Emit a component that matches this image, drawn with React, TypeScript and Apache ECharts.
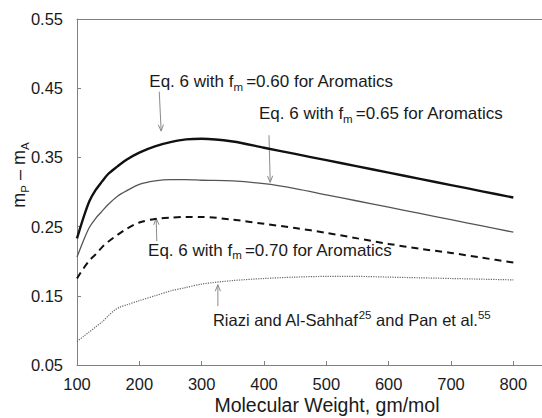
import React, { useEffect, useRef } from "react";
import * as echarts from "echarts";

const FONT = '"Liberation Sans", Arial, Helvetica, sans-serif';

// Molecular weight grid for the Eq. 6 curves
const mw = [100, 110, 120, 130, 140, 150, 165, 180, 200, 225, 250, 275, 300, 350, 400, 450, 500, 550, 600, 650, 700, 750, 800];
const fm060 = [0.233, 0.262, 0.287, 0.303, 0.315, 0.326, 0.337, 0.347, 0.357, 0.366, 0.372, 0.376, 0.377, 0.373, 0.364, 0.355, 0.346, 0.337, 0.328, 0.319, 0.310, 0.301, 0.292];
const fm065 = [0.206, 0.229, 0.249, 0.262, 0.272, 0.282, 0.294, 0.302, 0.311, 0.316, 0.318, 0.318, 0.317, 0.316, 0.312, 0.305, 0.296, 0.287, 0.278, 0.269, 0.260, 0.251, 0.242];
const fm070 = [0.175, 0.189, 0.201, 0.210, 0.220, 0.228, 0.238, 0.247, 0.256, 0.261, 0.263, 0.264, 0.264, 0.260, 0.254, 0.248, 0.241, 0.233, 0.225, 0.218, 0.212, 0.205, 0.198];

// Riazi and Al-Sahhaf / Pan et al.
const mwRiazi = [100, 110, 120, 130, 140, 150, 160, 170, 180, 200, 225, 250, 275, 300, 350, 400, 450, 500, 550, 600, 650, 700, 750, 800];
const riazi = [0.084, 0.091, 0.098, 0.105, 0.112, 0.121, 0.129, 0.134, 0.137, 0.143, 0.150, 0.157, 0.162, 0.167, 0.172, 0.175, 0.177, 0.178, 0.178, 0.177, 0.176, 0.175, 0.174, 0.173];

const xTicks = [100, 200, 300, 400, 500, 600, 700, 800];
const yTicks = [0.05, 0.15, 0.25, 0.35, 0.45, 0.55];

// annotation texts (rich) with anchor (data coords) and arrow (data coords)
const annoTexts = [
  "{a|Eq. 6 with f}{s|m }{a|=0.60 for Aromatics}",
  "{a|Eq. 6 with f}{s|m }{a|=0.65 for Aromatics}",
  "{a|Eq. 6 with f}{s|m }{a|=0.70 for Aromatics}",
  "{a|Riazi and Al-Sahhaf}{p|25}{a| and Pan et al.}{p|55}",
];
const annoAnchor: [number, number][] = [
  [216, 0.459],
  [392, 0.413],
  [214, 0.216],
  [318, 0.115],
];
const arrowTail: [number, number][] = [
  [232, 0.445],
  [408, 0.382],
  [228, 0.229],
  [326, 0.135],
];
const arrowTip: [number, number][] = [
  [235, 0.388],
  [410, 0.314],
  [227, 0.262],
  [326, 0.166],
];

const zip = (xs: number[], ys: number[]) => xs.map((x, i) => [x, ys[i]]);

const TXT = "#1a1a1a";
const rich = {
  a: { fontSize: 17, fontFamily: FONT, lineHeight: 22, fill: TXT },
  s: { fontSize: 11.5, fontFamily: FONT, lineHeight: 11, verticalAlign: "bottom", fill: TXT },
  p: { fontSize: 11.5, fontFamily: FONT, lineHeight: 11, verticalAlign: "top", fill: TXT },
};

export default function App() {
  const ref = useRef<HTMLDivElement>(null);
  useEffect(() => {
    if (!ref.current) return;
    const chart = echarts.init(ref.current, null, { renderer: "svg" });
    const axisColor = "#808080";
    const option: any = {
      animation: false,
      grid: { left: 77, right: 0, top: 19, bottom: 53 },
      xAxis: [
        {
          type: "value",
          min: 100,
          max: 846,
          axisLine: { show: true, onZero: false, lineStyle: { color: axisColor, width: 1 } },
          axisTick: { show: true, inside: true, length: 4, customValues: xTicks, lineStyle: { color: axisColor } },
          axisLabel: { customValues: xTicks, margin: 10, fontSize: 16.5, color: TXT, fontFamily: FONT },
          splitLine: { show: false },
        },
        {
          type: "value",
          position: "top",
          min: 100,
          max: 846,
          axisLine: { show: true, onZero: false, lineStyle: { color: axisColor, width: 1 } },
          axisTick: { show: false },
          axisLabel: { show: false },
          splitLine: { show: false },
        },
      ],
      yAxis: {
        type: "value",
        min: 0.05,
        max: 0.55,
        axisLine: { show: true, onZero: false, lineStyle: { color: axisColor, width: 1 } },
        axisTick: { show: true, inside: true, length: 4, customValues: yTicks, lineStyle: { color: axisColor } },
        axisLabel: {
          customValues: yTicks,
          margin: 14,
          fontSize: 16.5,
          color: TXT,
          fontFamily: FONT,
          formatter: (v: number) => v.toFixed(2),
        },
        splitLine: { show: false },
      },
      series: [
        {
          type: "line",
          xAxisIndex: 0,
          data: zip(mw, fm060),
          showSymbol: false,
          smooth: 0.3,
          lineStyle: { color: "#111", width: 2.4 },
        },
        {
          type: "line",
          xAxisIndex: 0,
          data: zip(mw, fm065),
          showSymbol: false,
          smooth: 0.3,
          lineStyle: { color: "#555", width: 1.3 },
        },
        {
          type: "line",
          xAxisIndex: 0,
          data: zip(mw, fm070),
          showSymbol: false,
          smooth: 0.3,
          lineStyle: { color: "#111", width: 2, type: [7, 5] },
        },
        {
          type: "line",
          xAxisIndex: 0,
          data: zip(mwRiazi, riazi),
          showSymbol: false,
          smooth: 0.3,
          lineStyle: { color: "#666", width: 1.2, type: [1.2, 1.2] },
        },
      ],
    };
    chart.setOption(option);

    const px = (p: [number, number]) =>
      chart.convertToPixel({ xAxisIndex: 0, yAxisIndex: 0 }, p) as number[];

    const graphics: any[] = [];
    annoTexts.forEach((t, i) => {
      const a = px(annoAnchor[i]);
      graphics.push({
        type: "text",
        x: a[0],
        y: a[1],
        style: {
          text: t,
          rich: i === 3 ? { ...rich, a: { ...rich.a, fontSize: 16.5 } } : rich,
          fill: TXT,
          font: `17px ${FONT}`,
          align: "left",
          verticalAlign: "middle",
        },
      });
      const s = px(arrowTail[i]);
      const e = px(arrowTip[i]);
      const dx = e[0] - s[0];
      const dy = e[1] - s[1];
      const len = Math.hypot(dx, dy);
      const ux = dx / len;
      const uy = dy / len;
      const hl = 7;
      const ang = (22 * Math.PI) / 180;
      const rot = (x: number, y: number, a: number) => [x * Math.cos(a) - y * Math.sin(a), x * Math.sin(a) + y * Math.cos(a)];
      const r1 = rot(-ux, -uy, ang);
      const r2 = rot(-ux, -uy, -ang);
      graphics.push({
        type: "line",
        shape: { x1: s[0], y1: s[1], x2: e[0], y2: e[1] },
        style: { stroke: "#8a8a8a", lineWidth: 1 },
      });
      graphics.push({
        type: "polyline",
        shape: {
          points: [
            [e[0] + r1[0] * hl, e[1] + r1[1] * hl],
            [e[0], e[1]],
            [e[0] + r2[0] * hl, e[1] + r2[1] * hl],
          ],
        },
        style: { stroke: "#8a8a8a", lineWidth: 1, fill: "none" },
      });
    });

    // axis titles
    const mid = px([501, 0.05]);
    graphics.push({
      type: "text",
      x: mid[0],
      y: 405,
      style: {
        text: "Molecular Weight, gm/mol",
        fill: TXT,
        font: `19.5px ${FONT}`,
        align: "center",
        verticalAlign: "middle",
      },
    });
    graphics.push({
      type: "text",
      x: 19,
      y: 175,
      rotation: Math.PI / 2,
      style: {
        text: "{a|m}{s|P}{a| – m}{s|A}",
        rich: {
          a: { fontSize: 18, fontFamily: FONT, lineHeight: 24, fill: TXT },
          s: { fontSize: 11.5, fontFamily: FONT, lineHeight: 11, verticalAlign: "bottom", fill: TXT },
        },
        fill: TXT,
        font: `18px ${FONT}`,
        align: "center",
        verticalAlign: "middle",
      },
    });

    chart.setOption({ graphic: graphics });

    return () => chart.dispose();
  }, []);

  return (
    <div
      ref={ref}
      style={{ position: "fixed", left: 0, top: 0, width: 542, height: 418, background: "#fff" }}
    />
  );
}
